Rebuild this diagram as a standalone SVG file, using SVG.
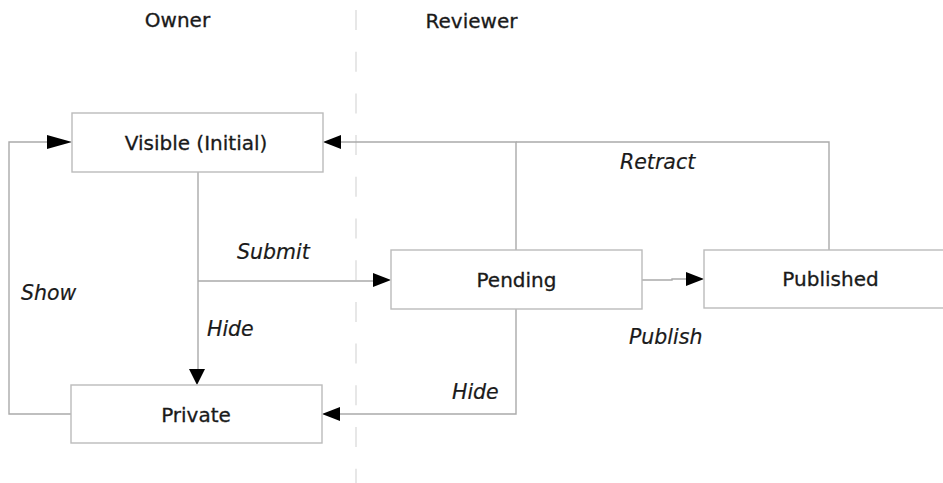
<svg xmlns="http://www.w3.org/2000/svg" width="943" height="483" viewBox="0 0 943 483">
<style>
  .lane { font-family: "DejaVu Sans", "Liberation Sans", sans-serif; font-size: 20px; fill: #1a1a1a; stroke: #1a1a1a; stroke-width: 0.3; }
  .box rect { fill: #fff; stroke: #bbb; stroke-width: 1.4; }
  .box text { font-family: "DejaVu Sans", "Liberation Sans", sans-serif; font-size: 20px; fill: #1a1a1a; stroke: #1a1a1a; stroke-width: 0.3; text-anchor: middle; }
  .lbl { font-family: "DejaVu Sans", "Liberation Sans", sans-serif; font-size: 20.5px; font-style: italic; fill: #1a1a1a; stroke: #1a1a1a; stroke-width: 0.2; }
  .edge { fill: none; stroke: #aaa; stroke-width: 1.4; }
  .head { fill: #000; stroke: none; }
  .divider { stroke: #e2e2e2; stroke-width: 1.6; stroke-dasharray: 20 21.7; }
</style>
<rect width="943" height="483" fill="#fff"/>
<line class="divider" x1="356" y1="10" x2="356" y2="483"/>
<text class="lane" x="177.5" y="27" text-anchor="middle">Owner</text>
<text class="lane" x="471.5" y="28" text-anchor="middle">Reviewer</text>

<g id="connectors">
  <path class="edge" d="M71,414 H9 V142 H50"/>
  <polygon class="head" points="72,142 47,135 47,149"/>
  <path class="edge" d="M198,172 V370"/>
  <polygon class="head" points="197,385 189,369 205,369"/>
  <path class="edge" d="M198,281 H373"/>
  <polygon class="head" points="391,280 373,273 373,287"/>
  <path class="edge" d="M516,250 V142 H340"/>
  <path class="edge" d="M829,250 V142 H516"/>
  <polygon class="head" points="323,142 341,135 341,149"/>
  <path class="edge" d="M516,309 V414 H339"/>
  <polygon class="head" points="322,414 340,407 340,421"/>
  <path class="edge" d="M642,280 H672 V279 H686"/>
  <polygon class="head" points="704,279 686,272 686,286"/>
  <text class="lbl" x="237" y="259">Submit</text>
  <text class="lbl" x="21" y="300">Show</text>
  <text class="lbl" x="207" y="336">Hide</text>
  <text class="lbl" x="452" y="399">Hide</text>
  <text class="lbl" x="629" y="344">Publish</text>
  <text class="lbl" x="620" y="169">Retract</text>
</g>

<g id="visible" class="box">
  <rect x="72" y="113" width="251" height="59"/>
  <text x="196" y="150">Visible (Initial)</text>
</g>
<g id="private" class="box">
  <rect x="71" y="385" width="251" height="58"/>
  <text x="196" y="422">Private</text>
</g>
<g id="pending" class="box">
  <rect x="391" y="250" width="251" height="59"/>
  <text x="516.5" y="287">Pending</text>
</g>
<g id="published" class="box">
  <rect x="704" y="250" width="260" height="58"/>
  <text x="830.5" y="286">Published</text>
</g>
</svg>
